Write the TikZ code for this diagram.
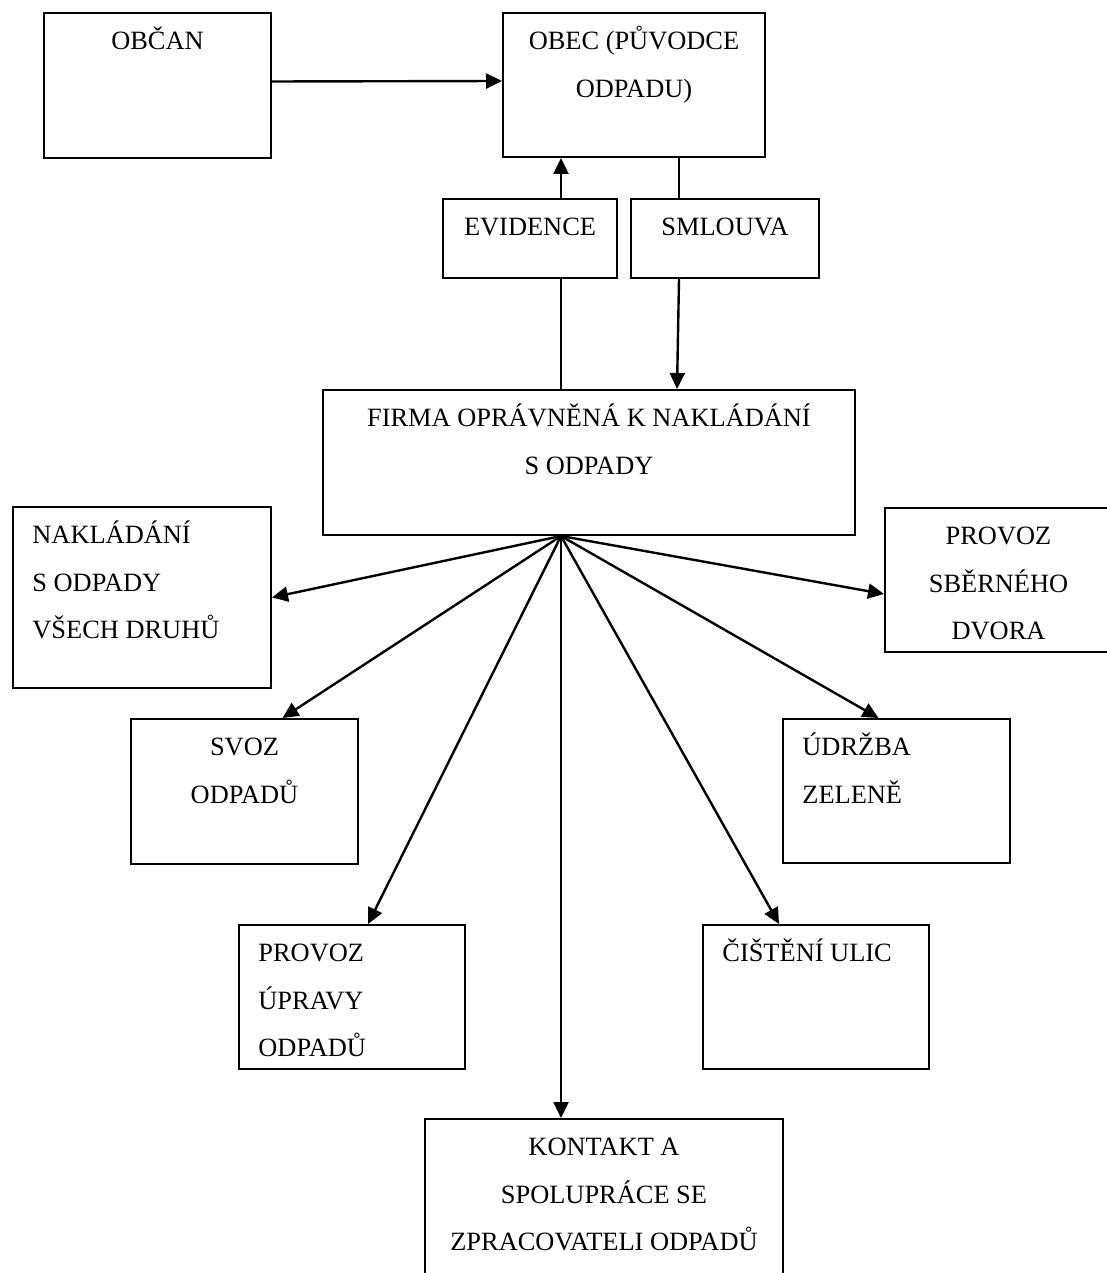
\documentclass[tikz,border=0pt]{standalone}
\usepackage{fontspec}
\setmainfont{Liberation Serif}
\usetikzlibrary{arrows.meta}

\begin{document}
\begin{tikzpicture}[x=0.5pt,y=-0.5pt,
  box/.style={draw,line width=1pt,inner sep=0pt,anchor=north west},
  txt/.style={inner sep=0pt,anchor=north,align=center,font=\fontsize{13.2}{23.75}\selectfont},
  arr/.style={line width=1.2pt,-{Triangle[length=8pt,width=7.5pt]}}]
\path[use as bounding box,fill=white] (0,0) rectangle (1107,1273);
\node [box,minimum width=113.5pt,minimum height=72.5pt] (obcan) at (43,12) {};
\node [box,minimum width=131pt,minimum height=72pt] (obec) at (502,12) {};
\node [box,minimum width=87pt,minimum height=39.5pt] (evidence) at (442,198) {};
\node [box,minimum width=94pt,minimum height=39.5pt] (smlouva) at (630,198) {};
\node [box,minimum width=266pt,minimum height=72.5pt] (firma) at (322,389) {};
\node [box,minimum width=129pt,minimum height=90.5pt] (naklad) at (12,506) {};
\node [box,minimum width=113.5pt,minimum height=72pt] (sberny) at (884,507) {};
\node [box,minimum width=113.5pt,minimum height=72.5pt] (svoz) at (130,718) {};
\node [box,minimum width=113.5pt,minimum height=72pt] (udrzba) at (782,718) {};
\node [box,minimum width=113pt,minimum height=72pt] (upravy) at (238,924) {};
\node [box,minimum width=113pt,minimum height=72pt] (cisteni) at (702,924) {};
\node [box,minimum width=179pt,minimum height=100pt] (kontakt) at (424,1118) {};

\node [txt] (obcan-t) at ([yshift=-2pt]obcan.north) {\strut OBČAN};
\node [txt] (obec-t) at ([yshift=-2pt]obec.north) {\strut OBEC (PŮVODCE\\ODPADU)};
\node [txt] (evidence-t) at ([yshift=-2pt]evidence.north) {\strut EVIDENCE};
\node [txt] (smlouva-t) at ([yshift=-2pt]smlouva.north) {\strut SMLOUVA};
\node [txt] (firma-t) at ([yshift=-2pt]firma.north) {\strut FIRMA OPRÁVNĚNÁ K NAKLÁDÁNÍ\\S ODPADY};
\node [txt,anchor=north west,align=left] (naklad-t) at ([shift={(10pt,-2pt)}]naklad.north west) {\strut NAKLÁDÁNÍ\\S ODPADY\\VŠECH DRUHŮ};
\node [txt] (sberny-t) at ([yshift=-2pt]sberny.north) {\strut PROVOZ\\SBĚRNÉHO\\DVORA};
\node [txt] (svoz-t) at ([yshift=-2pt]svoz.north) {\strut SVOZ\\ODPADŮ};
\node [txt,anchor=north west,align=left] (udrzba-t) at ([shift={(10pt,-2pt)}]udrzba.north west) {\strut ÚDRŽBA\\ZELENĚ};
\node [txt,anchor=north west,align=left] (upravy-t) at ([shift={(10pt,-2pt)}]upravy.north west) {\strut PROVOZ\\ÚPRAVY\\ODPADŮ};
\node [txt,anchor=north west,align=left] (cisteni-t) at ([shift={(10pt,-2pt)}]cisteni.north west) {\strut ČIŠTĚNÍ ULIC};
\node [txt] (kontakt-t) at ([yshift=-2pt]kontakt.north) {\strut KONTAKT A\\SPOLUPRÁCE SE\\ZPRACOVATELI ODPADŮ};

\coordinate (fan) at ([xshift=-14pt]firma.south);
\coordinate (sm) at ([xshift=-23pt]smlouva.north);

\draw [arr] ([yshift=2pt]obcan.east) -- ([yshift=2pt]obec.west);
\draw [line width=0.8pt] (firma.north -| fan) -- (evidence.south -| fan);
\draw [arr] (evidence.north -| fan) -- (obec.south -| fan);
\draw [line width=0.8pt] (obec.south -| sm) -- (smlouva.north -| sm);
\draw [arr] (smlouva.south -| sm) -- ([xshift=-1pt]firma.north -| sm);
%fan out of the firm
\draw [arr] (fan) -- (naklad.east);
\draw [arr] (fan) -- ([xshift=19pt]svoz.north);
\draw [arr] (fan) -- ([xshift=8pt]upravy.north);
\draw [arr] (fan) -- (kontakt.north -| fan);
\draw [arr] (fan) -- ([xshift=-18.5pt]cisteni.north);
\draw [arr] (fan) -- ([xshift=-9pt]udrzba.north);
\draw [arr] (fan) -- ([yshift=-7pt]sberny.west);
\end{tikzpicture}
\end{document}
